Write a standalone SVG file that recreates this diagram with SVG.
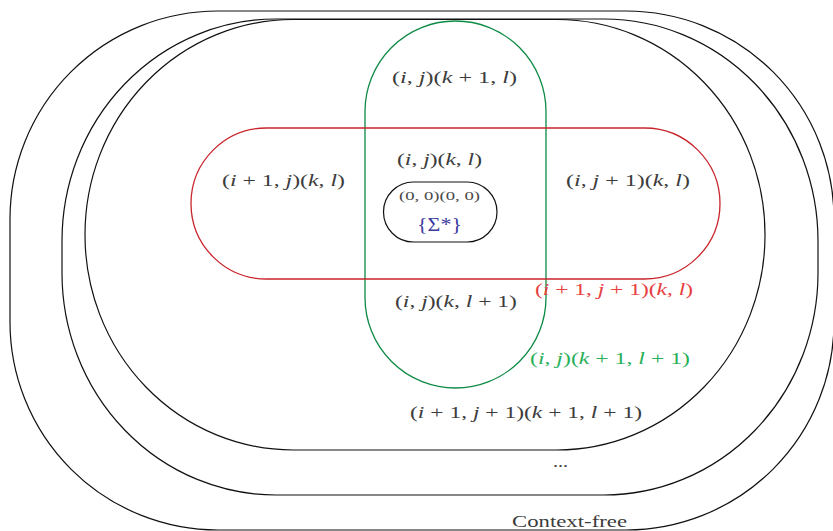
<svg xmlns="http://www.w3.org/2000/svg" width="833" height="531" viewBox="0 0 833 531">
<style>
.set{fill:none;stroke:#111;stroke-width:1.2}
.red{fill:none;stroke:#c9252c;stroke-width:1.3}
.green{fill:none;stroke:#0c8a44;stroke-width:1.3}
text{font-family:"Liberation Serif","DejaVu Serif",serif;font-size:16.5px;fill:#3c3c3c;text-anchor:start}
.it{font-style:italic}
.small{font-size:12.5px;fill:#4a4a4a}
.redt{fill:#e8403f}
.greent{fill:#2bb05a}
.bluet{fill:#3c3ca0;font-size:18px}
</style>
<rect width="833" height="531" fill="#fff"/>
<g id="context-free">
<rect class="set" x="10" y="11" width="824" height="519" rx="208" ry="208"/>
<text x="512" y="527" textLength="115" lengthAdjust="spacingAndGlyphs">Context-free</text>
</g>
<g id="level-dots">
<rect class="set" x="62" y="19" width="756" height="476" rx="214" ry="222"/>
<text x="553" y="467" textLength="15" lengthAdjust="spacingAndGlyphs">...</text>
</g>
<g id="level-ijkl">
<rect class="set" x="85" y="19.5" width="680" height="430.5" rx="208" ry="215"/>
<text x="410" y="418" textLength="232" lengthAdjust="spacingAndGlyphs">(<tspan class="it">i</tspan> + 1, <tspan class="it">j</tspan> + 1)(<tspan class="it">k</tspan> + 1, <tspan class="it">l</tspan> + 1)</text>
</g>
<g id="green-set">
<rect class="green" x="365" y="21" width="181" height="367" rx="90.5" ry="90.5"/>
<text x="392" y="83" textLength="125" lengthAdjust="spacingAndGlyphs">(<tspan class="it">i</tspan>, <tspan class="it">j</tspan>)(<tspan class="it">k</tspan> + 1, <tspan class="it">l</tspan>)</text>
<text x="395" y="307" textLength="122" lengthAdjust="spacingAndGlyphs">(<tspan class="it">i</tspan>, <tspan class="it">j</tspan>)(<tspan class="it">k</tspan>, <tspan class="it">l</tspan> + 1)</text>
<text class="greent" x="530" y="364" textLength="160" lengthAdjust="spacingAndGlyphs">(<tspan class="it">i</tspan>, <tspan class="it">j</tspan>)(<tspan class="it">k</tspan> + 1, <tspan class="it">l</tspan> + 1)</text>
</g>
<g id="red-set">
<rect class="red" x="191" y="128" width="529" height="151" rx="75.5" ry="75.5"/>
<text x="222" y="186" textLength="123" lengthAdjust="spacingAndGlyphs">(<tspan class="it">i</tspan> + 1, <tspan class="it">j</tspan>)(<tspan class="it">k</tspan>, <tspan class="it">l</tspan>)</text>
<text x="566" y="186" textLength="124" lengthAdjust="spacingAndGlyphs">(<tspan class="it">i</tspan>, <tspan class="it">j</tspan> + 1)(<tspan class="it">k</tspan>, <tspan class="it">l</tspan>)</text>
<text class="redt" x="535" y="295" textLength="158" lengthAdjust="spacingAndGlyphs">(<tspan class="it">i</tspan> + 1, <tspan class="it">j</tspan> + 1)(<tspan class="it">k</tspan>, <tspan class="it">l</tspan>)</text>
</g>
<g id="center">
<text x="397" y="165" textLength="85" lengthAdjust="spacingAndGlyphs">(<tspan class="it">i</tspan>, <tspan class="it">j</tspan>)(<tspan class="it">k</tspan>, <tspan class="it">l</tspan>)</text>
</g>
<g id="sigma-star">
<rect class="set" x="383.5" y="182" width="113.5" height="60" rx="30" ry="30"/>
<text class="small" x="399" y="200" textLength="81" lengthAdjust="spacingAndGlyphs">(0, 0)(0, 0)</text>
<text class="bluet" x="417" y="231" textLength="45" lengthAdjust="spacingAndGlyphs">{Σ*}</text>
</g>
<g id="connectors"></g>
</svg>
